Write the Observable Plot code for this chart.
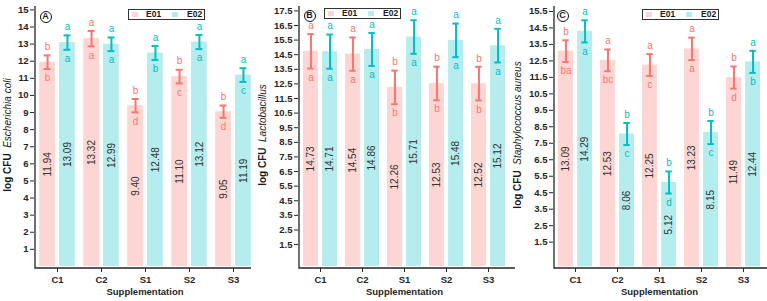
<!DOCTYPE html>
<html>
<head>
<meta charset="utf-8">
<script src="https://cdn.jsdelivr.net/npm/d3@7"></script>
<script src="https://cdn.jsdelivr.net/npm/@observablehq/plot@0.6"></script>
<style>
  body { margin: 0; background: #fff; }
  #chart { position: relative; width: 767px; height: 301px; overflow: hidden;
           font-family: "Liberation Sans", Arial, sans-serif; color: #1a1a1a; }
  .panel { position: absolute; top: 0; }
  .panel svg { overflow: visible; }
  .ytitle { position: absolute; white-space: nowrap; font-size: 10px;
            transform: translate(-50%, -50%) rotate(-90deg); }
  .ytitle b { font-weight: bold; }
  .ytitle i { font-style: italic; }
  .legend { position: absolute; width: 77px; height: 11px; border: 1px solid #333;
            box-sizing: border-box; font-size: 8.5px; font-weight: bold; }
  .legend .sw { position: absolute; top: 2px; width: 6px; height: 5px; }
  .legend .lb { position: absolute; top: 0; line-height: 9px; }
  .tag { position: absolute; width: 12px; height: 12px; border: 1.4px solid #111;
         border-radius: 50%; box-sizing: border-box; font-size: 9px; font-weight: bold;
         text-align: center; line-height: 9.5px; transform: translate(-50%, -50%); }
</style>
</head>
<body>
<div id="chart"></div>
<script>
// Treatments on the x axis and the two series in each group
const categories = ["C1", "C2", "S1", "S2", "S3"];
const groups = ["E01", "E02"];

// (A) Escherichia coli, log CFU
const ecoliE01 = [11.94, 13.32, 9.40, 11.10, 9.05];
const ecoliE02 = [13.09, 12.99, 12.48, 13.12, 11.19];
const ecoliE01Err = [0.40, 0.45, 0.39, 0.40, 0.36];
const ecoliE02Err = [0.42, 0.40, 0.41, 0.41, 0.40];
const ecoliE01Upper = ["b", "a", "b", "b", "b"];
const ecoliE01Lower = ["b", "a", "d", "c", "d"];
const ecoliE02Upper = ["a", "a", "a", "a", "a"];
const ecoliE02Lower = ["a", "a", "b", "a", "c"];
const ecoliTicks = [1, 2, 3, 4, 5, 6, 7, 8, 9, 10, 11, 12, 13, 14, 15];

// (B) Lactobacillus, log CFU
const lactoE01 = [14.73, 14.54, 12.26, 12.53, 12.52];
const lactoE02 = [14.71, 14.86, 15.71, 15.48, 15.12];
const lactoE01Err = [1.18, 1.14, 1.15, 1.15, 1.15];
const lactoE02Err = [1.17, 1.13, 1.15, 1.15, 1.15];
const lactoE01Upper = ["a", "a", "b", "b", "b"];
const lactoE01Lower = ["a", "a", "b", "b", "b"];
const lactoE02Upper = ["a", "a", "a", "a", "a"];
const lactoE02Lower = ["a", "a", "a", "a", "a"];
const lactoTicks = [1.5, 2.5, 3.5, 4.5, 5.5, 6.5, 7.5, 8.5, 9.5, 10.5, 11.5, 12.5, 13.5, 14.5, 15.5, 16.5, 17.5];

// (C) Staphylococcus aureus, log CFU
const staphE01 = [13.09, 12.53, 12.25, 13.23, 11.49];
const staphE02 = [14.29, 8.06, 5.12, 8.15, 12.44];
const staphE01Err = [0.66, 0.66, 0.66, 0.68, 0.67];
const staphE02Err = [0.67, 0.67, 0.67, 0.70, 0.67];
const staphE01Upper = ["b", "a", "a", "a", "b"];
const staphE01Lower = ["ba", "bc", "c", "a", "d"];
const staphE02Upper = ["a", "b", "b", "b", "a"];
const staphE02Lower = ["a", "c", "d", "c", "b"];
const staphTicks = [1.5, 2.5, 3.5, 4.5, 5.5, 6.5, 7.5, 8.5, 9.5, 10.5, 11.5, 12.5, 13.5, 14.5, 15.5];

const lineColor = { E01: "#F8766D", E02: "#00BFC4" };
const fillColor = { E01: "#fdd6d3", E02: "#b5ecee" };

function rows(values, errs, upper, lower) {
  return categories.map((cat, i) => ({
    cat, v: values[i], lo: values[i] - errs[i], hi: values[i] + errs[i],
    up: upper[i], down: lower[i]
  }));
}

const panels = [
  { tag: "A", species: "Escherichia coli", left: 0, width: 255, mL: 34, mR: 0, ext: -4,
    domain: [-0.12, 15.2], ticks: ecoliTicks, fmt: d3.format("d"),
    titleX: 6.5, legend: [128, 9], tagAt: [45.5, 16.5],
    series: { E01: rows(ecoliE01, ecoliE01Err, ecoliE01Upper, ecoliE01Lower),
              E02: rows(ecoliE02, ecoliE02Err, ecoliE02Upper, ecoliE02Lower) } },
  { tag: "B", species: "Lactobacillus", left: 256, width: 260, mL: 42, mR: 6, ext: 5,
    domain: [-0.14, 17.8], ticks: lactoTicks, fmt: d3.format(".1f"),
    titleX: 262, legend: [324, 8], tagAt: [309.5, 15.5],
    series: { E01: rows(lactoE01, lactoE01Err, lactoE01Upper, lactoE01Lower),
              E02: rows(lactoE02, lactoE02Err, lactoE02Upper, lactoE02Lower) } },
  { tag: "C", species: "Staphylococcus aureus", left: 511, width: 256, mL: 42, mR: 2, ext: 2,
    domain: [-0.1, 15.8], ticks: staphTicks, fmt: d3.format(".1f"),
    titleX: 517, legend: [642, 9], tagAt: [562.5, 15.5],
    series: { E01: rows(staphE01, staphE01Err, staphE01Upper, staphE01Lower),
              E02: rows(staphE02, staphE02Err, staphE02Upper, staphE02Lower) } }
];

// L-shaped axis lines along the left and bottom of the frame
function axisLines(ext) {
  return (index, scales, values, dim) => {
    const { width, height, marginLeft, marginRight, marginTop, marginBottom } = dim;
    const x0 = marginLeft + 1, y0 = height - marginBottom;
    return d3.create("svg:path")
      .attr("fill", "none").attr("stroke", "#262626").attr("stroke-width", 1.3)
      .attr("d", `M${x0},${marginTop}V${y0}H${width - marginRight + ext}`)
      .node();
  };
}

const chart = document.getElementById("chart");
const height = 301, marginTop = 6, marginBottom = 33;

for (const p of panels) {
  const bw = (p.width - p.mL - p.mR) / categories.length;
  const marks = [];
  for (const g of groups) {
    const data = p.series[g];
    const sign = g === "E01" ? -1 : 1;
    const off = sign * 0.225 * bw;
    const outer = 0.5 - 0.405, inner = 0.5 + 0.045;
    const cap = bw / 2 - 0.08 * bw;
    marks.push(
      Plot.barY(data, {
        x: "cat", y: "v", fill: fillColor[g],
        insetLeft: (g === "E01" ? outer : inner) * bw,
        insetRight: (g === "E01" ? inner : outer) * bw
      }),
      Plot.text(data, {
        x: "cat", y: d => d.v / 2, text: d => d.v.toFixed(2), rotate: -90, dx: off,
        fill: "#333", fontSize: 10, fontWeight: "normal"
      }),
      Plot.ruleX(data, { x: "cat", y1: "lo", y2: "hi", dx: off, stroke: lineColor[g], strokeWidth: 2 }),
      Plot.tickY(data, { x: "cat", y: "hi", dx: off, stroke: lineColor[g], strokeWidth: 2,
                         insetLeft: cap, insetRight: cap }),
      Plot.tickY(data, { x: "cat", y: "lo", dx: off, stroke: lineColor[g], strokeWidth: 2,
                         insetLeft: cap, insetRight: cap }),
      Plot.text(data, { x: "cat", y: "hi", text: "up", dx: off, dy: -8.5,
                        fill: lineColor[g], fontSize: 10, fontWeight: "normal" }),
      Plot.text(data, { x: "cat", y: "lo", text: "down", dx: off, dy: 9,
                        fill: lineColor[g], fontSize: 10, fontWeight: "normal" })
    );
  }
  marks.push(
    Plot.axisY(p.ticks, { tickSize: 4, tickPadding: 2, tickFormat: p.fmt, label: null,
                          fontSize: 9.5, fontWeight: "bold" }),
    Plot.axisX({ tickSize: 4, tickPadding: 3.5, label: null, fontSize: 9.5, fontWeight: "bold" }),
    Plot.text(["Supplementation"], { frameAnchor: "bottom", dy: 26, fontSize: 9.5, fontWeight: "bold" }),
    axisLines(p.ext)
  );

  const svg = Plot.plot({
    width: p.width, height, marginLeft: p.mL, marginRight: p.mR, marginTop, marginBottom,
    style: { fontFamily: "'Liberation Sans', Arial, sans-serif", fontSize: "9.5px",
             fontWeight: "bold", color: "#262626", background: "transparent", overflow: "visible" },
    x: { type: "band", domain: categories, padding: 0, axis: null },
    y: { domain: p.domain, axis: null },
    marks
  });

  const holder = document.createElement("div");
  holder.className = "panel";
  holder.style.left = p.left + "px";
  holder.appendChild(svg);
  chart.appendChild(holder);

  // Rotated y-axis title: bold unit plus italic organism name
  const t = document.createElement("div");
  t.className = "ytitle";
  t.style.left = p.titleX + "px";
  t.style.top = "135px";
  t.innerHTML = `<b>log CFU</b>&nbsp;&nbsp;<i>${p.species}</i>`;
  chart.appendChild(t);

  // Panel tag in a circle
  const tag = document.createElement("div");
  tag.className = "tag";
  tag.style.left = p.tagAt[0] + "px";
  tag.style.top = p.tagAt[1] + "px";
  tag.textContent = p.tag;
  chart.appendChild(tag);

  // Boxed legend for the two series
  const lg = document.createElement("div");
  lg.className = "legend";
  lg.style.left = p.legend[0] + "px";
  lg.style.top = p.legend[1] + "px";
  lg.innerHTML =
    `<span class="sw" style="left:3px;background:${fillColor.E01}"></span>` +
    `<span class="lb" style="left:17px">${groups[0]}</span>` +
    `<span class="sw" style="left:43px;background:${fillColor.E02}"></span>` +
    `<span class="lb" style="left:58px">${groups[1]}</span>`;
  chart.appendChild(lg);
}
</script>
</body>
</html>
